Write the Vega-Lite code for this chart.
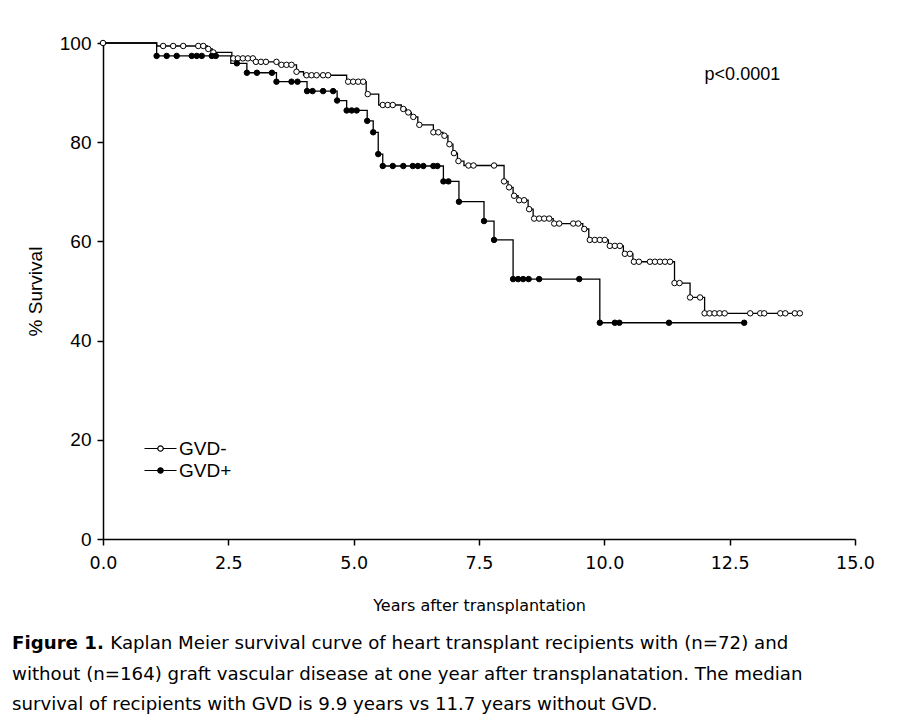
{
  "$schema": "https://vega.github.io/schema/vega-lite/v6.json",
  "autosize": {"type": "none"},
  "padding": {"left": 103, "top": 43, "right": 64, "bottom": 189},
  "width": 752,
  "height": 496,
  "background": "white",
  "config": {"view": {"stroke": null}},
  "title": {
    "text": "Figure 1.",
    "subtitle": [
      "\u200b\u00a0\u00a0\u00a0\u00a0\u00a0\u00a0\u00a0\u00a0\u00a0\u00a0\u00a0\u00a0\u00a0\u00a0\u00a0\u00a0\u00a0Kaplan Meier survival curve of heart transplant recipients with (n=72) and",
      "without (n=164) graft vascular disease at one year after transplanatation. The median",
      "survival of recipients with GVD is 9.9 years vs 11.7 years without GVD."
    ],
    "orient": "bottom",
    "anchor": "start",
    "frame": "group",
    "dx": -91,
    "offset": 21,
    "font": "DejaVu Sans",
    "fontSize": 18.2,
    "fontWeight": "bold",
    "color": "black",
    "subtitleFont": "DejaVu Sans",
    "subtitleFontSize": 18.2,
    "subtitleColor": "black",
    "subtitleLineHeight": 30.5,
    "subtitlePadding": -17.5
  },
  "datasets": {
    "curve": [
      {"group": "GVD-", "t": 0, "s": 100},
      {"group": "GVD-", "t": 1.07, "s": 99.4},
      {"group": "GVD-", "t": 2.08, "s": 98.8},
      {"group": "GVD-", "t": 2.18, "s": 98.1},
      {"group": "GVD-", "t": 2.57, "s": 96.9},
      {"group": "GVD-", "t": 3.04, "s": 96.2},
      {"group": "GVD-", "t": 3.5, "s": 95.6},
      {"group": "GVD-", "t": 3.86, "s": 94.2},
      {"group": "GVD-", "t": 4.0, "s": 93.5},
      {"group": "GVD-", "t": 4.86, "s": 92.2},
      {"group": "GVD-", "t": 5.25, "s": 89.7},
      {"group": "GVD-", "t": 5.5, "s": 87.5},
      {"group": "GVD-", "t": 5.95, "s": 86.7},
      {"group": "GVD-", "t": 6.05, "s": 86.0},
      {"group": "GVD-", "t": 6.15, "s": 85.1},
      {"group": "GVD-", "t": 6.28, "s": 83.5},
      {"group": "GVD-", "t": 6.59, "s": 82.0},
      {"group": "GVD-", "t": 6.78, "s": 81.3},
      {"group": "GVD-", "t": 6.88, "s": 79.6},
      {"group": "GVD-", "t": 6.98, "s": 77.8},
      {"group": "GVD-", "t": 7.07, "s": 76.2},
      {"group": "GVD-", "t": 7.2, "s": 75.3},
      {"group": "GVD-", "t": 8.0, "s": 72.1},
      {"group": "GVD-", "t": 8.08, "s": 70.9},
      {"group": "GVD-", "t": 8.18, "s": 69.2},
      {"group": "GVD-", "t": 8.28, "s": 68.3},
      {"group": "GVD-", "t": 8.48, "s": 66.5},
      {"group": "GVD-", "t": 8.58, "s": 64.6},
      {"group": "GVD-", "t": 8.98, "s": 63.6},
      {"group": "GVD-", "t": 9.57, "s": 62.5},
      {"group": "GVD-", "t": 9.69, "s": 60.3},
      {"group": "GVD-", "t": 10.08, "s": 59.1},
      {"group": "GVD-", "t": 10.38, "s": 57.5},
      {"group": "GVD-", "t": 10.57, "s": 55.9},
      {"group": "GVD-", "t": 11.4, "s": 51.6},
      {"group": "GVD-", "t": 11.71, "s": 48.7},
      {"group": "GVD-", "t": 12.0, "s": 45.5},
      {"group": "GVD-", "t": 13.9, "s": 45.5},
      {"group": "GVD+", "t": 0, "s": 100},
      {"group": "GVD+", "t": 1.07, "s": 97.4},
      {"group": "GVD+", "t": 2.55, "s": 95.9},
      {"group": "GVD+", "t": 2.87, "s": 94.0},
      {"group": "GVD+", "t": 3.46, "s": 92.2},
      {"group": "GVD+", "t": 4.07, "s": 90.3},
      {"group": "GVD+", "t": 4.67, "s": 88.4},
      {"group": "GVD+", "t": 4.86, "s": 86.4},
      {"group": "GVD+", "t": 5.27, "s": 84.3},
      {"group": "GVD+", "t": 5.39, "s": 82.0},
      {"group": "GVD+", "t": 5.49, "s": 77.6},
      {"group": "GVD+", "t": 5.58, "s": 75.2},
      {"group": "GVD+", "t": 6.79, "s": 72.1},
      {"group": "GVD+", "t": 7.1, "s": 68.0},
      {"group": "GVD+", "t": 7.6, "s": 64.1},
      {"group": "GVD+", "t": 7.8, "s": 60.3},
      {"group": "GVD+", "t": 8.18, "s": 52.4},
      {"group": "GVD+", "t": 9.91, "s": 43.6},
      {"group": "GVD+", "t": 12.79, "s": 43.6}
    ],
    "censor": [
      {"group": "GVD-", "t": 0, "s": 100},
      {"group": "GVD-", "t": 1.2, "s": 99.4},
      {"group": "GVD-", "t": 1.4, "s": 99.4},
      {"group": "GVD-", "t": 1.6, "s": 99.4},
      {"group": "GVD-", "t": 1.9, "s": 99.4},
      {"group": "GVD-", "t": 2.0, "s": 99.4},
      {"group": "GVD-", "t": 2.1, "s": 98.8},
      {"group": "GVD-", "t": 2.2, "s": 98.1},
      {"group": "GVD-", "t": 2.6, "s": 96.9},
      {"group": "GVD-", "t": 2.69, "s": 96.9},
      {"group": "GVD-", "t": 2.79, "s": 96.9},
      {"group": "GVD-", "t": 2.89, "s": 96.9},
      {"group": "GVD-", "t": 2.99, "s": 96.9},
      {"group": "GVD-", "t": 3.05, "s": 96.2},
      {"group": "GVD-", "t": 3.15, "s": 96.2},
      {"group": "GVD-", "t": 3.25, "s": 96.2},
      {"group": "GVD-", "t": 3.46, "s": 96.2},
      {"group": "GVD-", "t": 3.56, "s": 95.6},
      {"group": "GVD-", "t": 3.66, "s": 95.6},
      {"group": "GVD-", "t": 3.76, "s": 95.6},
      {"group": "GVD-", "t": 3.86, "s": 94.2},
      {"group": "GVD-", "t": 4.06, "s": 93.5},
      {"group": "GVD-", "t": 4.16, "s": 93.5},
      {"group": "GVD-", "t": 4.26, "s": 93.5},
      {"group": "GVD-", "t": 4.39, "s": 93.5},
      {"group": "GVD-", "t": 4.49, "s": 93.5},
      {"group": "GVD-", "t": 4.89, "s": 92.2},
      {"group": "GVD-", "t": 4.99, "s": 92.2},
      {"group": "GVD-", "t": 5.09, "s": 92.2},
      {"group": "GVD-", "t": 5.19, "s": 92.2},
      {"group": "GVD-", "t": 5.28, "s": 89.7},
      {"group": "GVD-", "t": 5.58, "s": 87.5},
      {"group": "GVD-", "t": 5.68, "s": 87.5},
      {"group": "GVD-", "t": 5.78, "s": 87.5},
      {"group": "GVD-", "t": 5.99, "s": 86.7},
      {"group": "GVD-", "t": 6.09, "s": 86.0},
      {"group": "GVD-", "t": 6.19, "s": 85.1},
      {"group": "GVD-", "t": 6.31, "s": 83.5},
      {"group": "GVD-", "t": 6.59, "s": 82.0},
      {"group": "GVD-", "t": 6.69, "s": 82.0},
      {"group": "GVD-", "t": 6.81, "s": 81.3},
      {"group": "GVD-", "t": 6.91, "s": 79.6},
      {"group": "GVD-", "t": 7.0, "s": 77.8},
      {"group": "GVD-", "t": 7.09, "s": 76.2},
      {"group": "GVD-", "t": 7.29, "s": 75.3},
      {"group": "GVD-", "t": 7.39, "s": 75.3},
      {"group": "GVD-", "t": 7.8, "s": 75.3},
      {"group": "GVD-", "t": 8.0, "s": 72.1},
      {"group": "GVD-", "t": 8.1, "s": 70.9},
      {"group": "GVD-", "t": 8.2, "s": 69.2},
      {"group": "GVD-", "t": 8.3, "s": 68.3},
      {"group": "GVD-", "t": 8.4, "s": 68.3},
      {"group": "GVD-", "t": 8.5, "s": 66.5},
      {"group": "GVD-", "t": 8.6, "s": 64.6},
      {"group": "GVD-", "t": 8.7, "s": 64.6},
      {"group": "GVD-", "t": 8.8, "s": 64.6},
      {"group": "GVD-", "t": 8.9, "s": 64.6},
      {"group": "GVD-", "t": 9.0, "s": 63.6},
      {"group": "GVD-", "t": 9.1, "s": 63.6},
      {"group": "GVD-", "t": 9.38, "s": 63.6},
      {"group": "GVD-", "t": 9.48, "s": 63.6},
      {"group": "GVD-", "t": 9.6, "s": 62.5},
      {"group": "GVD-", "t": 9.71, "s": 60.3},
      {"group": "GVD-", "t": 9.81, "s": 60.3},
      {"group": "GVD-", "t": 9.91, "s": 60.3},
      {"group": "GVD-", "t": 10.01, "s": 60.3},
      {"group": "GVD-", "t": 10.11, "s": 59.1},
      {"group": "GVD-", "t": 10.21, "s": 59.1},
      {"group": "GVD-", "t": 10.31, "s": 59.1},
      {"group": "GVD-", "t": 10.41, "s": 57.5},
      {"group": "GVD-", "t": 10.51, "s": 57.5},
      {"group": "GVD-", "t": 10.59, "s": 55.9},
      {"group": "GVD-", "t": 10.69, "s": 55.9},
      {"group": "GVD-", "t": 10.91, "s": 55.9},
      {"group": "GVD-", "t": 11.01, "s": 55.9},
      {"group": "GVD-", "t": 11.11, "s": 55.9},
      {"group": "GVD-", "t": 11.21, "s": 55.9},
      {"group": "GVD-", "t": 11.31, "s": 55.9},
      {"group": "GVD-", "t": 11.4, "s": 51.6},
      {"group": "GVD-", "t": 11.5, "s": 51.6},
      {"group": "GVD-", "t": 11.71, "s": 48.7},
      {"group": "GVD-", "t": 11.91, "s": 48.7},
      {"group": "GVD-", "t": 12.0, "s": 45.5},
      {"group": "GVD-", "t": 12.1, "s": 45.5},
      {"group": "GVD-", "t": 12.2, "s": 45.5},
      {"group": "GVD-", "t": 12.3, "s": 45.5},
      {"group": "GVD-", "t": 12.4, "s": 45.5},
      {"group": "GVD-", "t": 12.91, "s": 45.5},
      {"group": "GVD-", "t": 13.11, "s": 45.5},
      {"group": "GVD-", "t": 13.19, "s": 45.5},
      {"group": "GVD-", "t": 13.51, "s": 45.5},
      {"group": "GVD-", "t": 13.61, "s": 45.5},
      {"group": "GVD-", "t": 13.8, "s": 45.5},
      {"group": "GVD-", "t": 13.9, "s": 45.5},
      {"group": "GVD+", "t": 1.07, "s": 97.4},
      {"group": "GVD+", "t": 1.27, "s": 97.4},
      {"group": "GVD+", "t": 1.47, "s": 97.4},
      {"group": "GVD+", "t": 1.77, "s": 97.4},
      {"group": "GVD+", "t": 1.87, "s": 97.4},
      {"group": "GVD+", "t": 1.97, "s": 97.4},
      {"group": "GVD+", "t": 2.17, "s": 97.4},
      {"group": "GVD+", "t": 2.25, "s": 97.4},
      {"group": "GVD+", "t": 2.67, "s": 95.9},
      {"group": "GVD+", "t": 2.87, "s": 94.0},
      {"group": "GVD+", "t": 3.07, "s": 94.0},
      {"group": "GVD+", "t": 3.37, "s": 94.0},
      {"group": "GVD+", "t": 3.46, "s": 92.2},
      {"group": "GVD+", "t": 3.76, "s": 92.2},
      {"group": "GVD+", "t": 3.88, "s": 92.2},
      {"group": "GVD+", "t": 4.07, "s": 90.3},
      {"group": "GVD+", "t": 4.18, "s": 90.3},
      {"group": "GVD+", "t": 4.39, "s": 90.3},
      {"group": "GVD+", "t": 4.59, "s": 90.3},
      {"group": "GVD+", "t": 4.67, "s": 88.4},
      {"group": "GVD+", "t": 4.86, "s": 86.4},
      {"group": "GVD+", "t": 4.96, "s": 86.4},
      {"group": "GVD+", "t": 5.06, "s": 86.4},
      {"group": "GVD+", "t": 5.27, "s": 84.3},
      {"group": "GVD+", "t": 5.39, "s": 82.0},
      {"group": "GVD+", "t": 5.49, "s": 77.6},
      {"group": "GVD+", "t": 5.58, "s": 75.2},
      {"group": "GVD+", "t": 5.78, "s": 75.2},
      {"group": "GVD+", "t": 5.99, "s": 75.2},
      {"group": "GVD+", "t": 6.18, "s": 75.2},
      {"group": "GVD+", "t": 6.28, "s": 75.2},
      {"group": "GVD+", "t": 6.39, "s": 75.2},
      {"group": "GVD+", "t": 6.59, "s": 75.2},
      {"group": "GVD+", "t": 6.67, "s": 75.2},
      {"group": "GVD+", "t": 6.79, "s": 72.1},
      {"group": "GVD+", "t": 6.89, "s": 72.1},
      {"group": "GVD+", "t": 7.1, "s": 68.0},
      {"group": "GVD+", "t": 7.6, "s": 64.1},
      {"group": "GVD+", "t": 7.8, "s": 60.3},
      {"group": "GVD+", "t": 8.18, "s": 52.4},
      {"group": "GVD+", "t": 8.28, "s": 52.4},
      {"group": "GVD+", "t": 8.38, "s": 52.4},
      {"group": "GVD+", "t": 8.49, "s": 52.4},
      {"group": "GVD+", "t": 8.7, "s": 52.4},
      {"group": "GVD+", "t": 9.5, "s": 52.4},
      {"group": "GVD+", "t": 9.91, "s": 43.6},
      {"group": "GVD+", "t": 10.21, "s": 43.6},
      {"group": "GVD+", "t": 10.3, "s": 43.6},
      {"group": "GVD+", "t": 11.29, "s": 43.6},
      {"group": "GVD+", "t": 12.79, "s": 43.6}
    ],
    "notes": [
      {"t": 12.0, "s": 93.5, "label": "p<0.0001"}
    ]
  },
  "encoding": {
    "x": {
      "field": "t", "type": "quantitative",
      "scale": {"domain": [0, 15], "nice": false, "zero": false},
      "axis": {
        "title": "Years after transplantation",
        "values": [0, 2.5, 5, 7.5, 10, 12.5, 15],
        "format": ".1f",
        "grid": false,
        "labelFlush": false,
        "labelOverlap": false,
        "labelFont": "DejaVu Sans",
        "labelFontSize": 17.5,
        "labelColor": "black",
        "labelPadding": 9,
        "titleFont": "DejaVu Sans",
        "titleFontSize": 16,
        "titleFontWeight": "normal",
        "titleColor": "black",
        "titlePadding": 26,
        "domainColor": "black",
        "domainWidth": 1.5,
        "tickColor": "black",
        "tickWidth": 1.5,
        "tickSize": 6
      }
    },
    "y": {
      "field": "s", "type": "quantitative",
      "scale": {"domain": [0, 100], "nice": false},
      "axis": {
        "title": "% Survival",
        "values": [0, 20, 40, 60, 80, 100],
        "grid": false,
        "labelFlush": false,
        "labelOverlap": false,
        "labelFont": "Liberation Sans",
        "labelFontSize": 19,
        "labelColor": "black",
        "labelPadding": 6,
        "titleFont": "Liberation Sans",
        "titleFontSize": 19,
        "titleFontWeight": "normal",
        "titleColor": "black",
        "titlePadding": 14,
        "domainColor": "black",
        "domainWidth": 1.5,
        "tickColor": "black",
        "tickWidth": 1.5,
        "tickSize": 6
      }
    }
  },
  "layer": [
    {
      "data": {"name": "curve"},
      "mark": {"type": "line", "interpolate": "step-after", "color": "black", "strokeWidth": 1.3},
      "encoding": {"detail": {"field": "group"}}
    },
    {
      "data": {"name": "censor"},
      "mark": {"type": "point", "filled": true, "stroke": "black", "strokeWidth": 1, "opacity": 1, "size": 30},
      "encoding": {
        "fill": {
          "field": "group", "type": "nominal",
          "scale": {"domain": ["GVD-", "GVD+"], "range": ["white", "black"]},
          "legend": {
            "title": null,
            "orient": "none",
            "legendX": 48,
            "legendY": 396,
            "padding": 0,
            "symbolType": "M-2,0L-0.34,0M0.34,0L2,0M-0.34,0A0.34,0.34,0,1,0,0.34,0A0.34,0.34,0,1,0,-0.34,0Z",
            "symbolSize": 256,
            "symbolStrokeColor": "black",
            "symbolStrokeWidth": 1.2,
            "symbolOpacity": 1,
            "labelFont": "Liberation Sans",
            "labelFontSize": 19,
            "labelColor": "black",
            "labelOffset": 9,
            "rowPadding": 2
          }
        }
      }
    },
    {
      "data": {"name": "notes"},
      "mark": {"type": "text", "align": "left", "baseline": "middle", "font": "Liberation Sans", "fontSize": 18, "color": "black"},
      "encoding": {"text": {"field": "label"}}
    }
  ]
}
